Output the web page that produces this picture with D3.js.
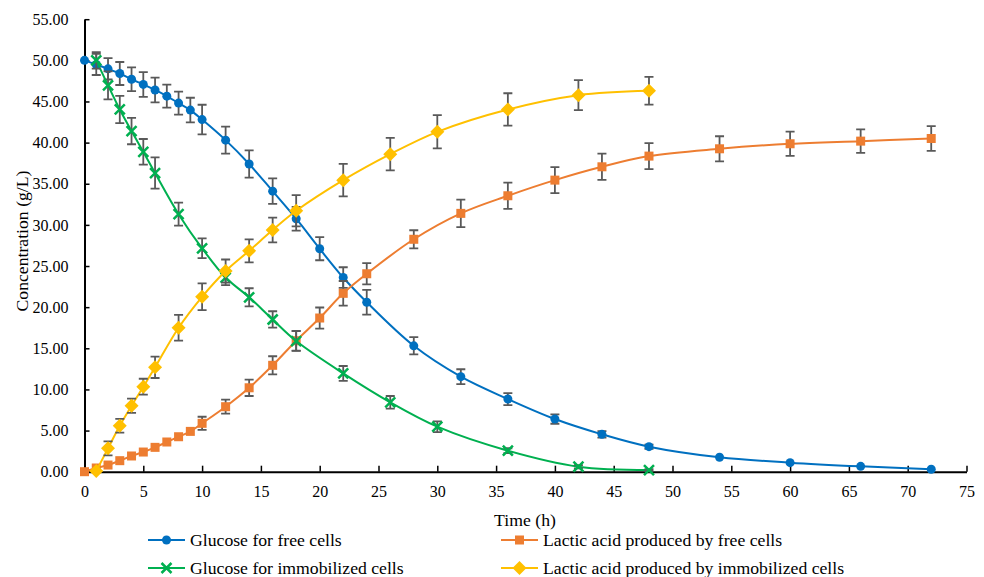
<!DOCTYPE html>
<html>
<head>
<meta charset="utf-8">
<script src="https://cdn.jsdelivr.net/npm/d3@7/dist/d3.min.js"></script>
<style>
  html, body { margin: 0; padding: 0; background: #fff; }
  svg { display: block; }
  svg text { font-family: "Liberation Serif", "Times New Roman", "DejaVu Serif", serif !important; fill: #000; }
</style>
</head>
<body>
<svg id="chart" width="984" height="577"></svg>
<script>
// ---- data ----
const timeFree = [0,1,2,3,4,5,6,7,8,9,10,12,14,16,18,20,22,24,28,32,36,40,44,48,54,60,66,72];
const glucoseFree = [50.0,49.5,48.97,48.4,47.7,47.07,46.4,45.65,44.8,43.95,42.8,40.3,37.4,34.1,30.75,27.1,23.6,20.6,15.3,11.55,8.83,6.4,4.54,3.04,1.75,1.1,0.65,0.3];
const glucoseFreeErr = [0,1.28,1.3,1.4,1.45,1.5,1.5,1.4,1.4,1.5,1.8,1.65,1.65,1.55,1.45,1.4,1.25,1.5,1.05,0.9,0.73,0.57,0.4,0.25,0,0,0,0];

const timeLacticFree = [0,1,2,3,4,5,6,7,8,9,10,12,14,16,18,20,22,24,28,32,36,40,44,48,54,60,66,72];
const lacticFree = [0,0.45,0.81,1.34,1.91,2.39,2.96,3.61,4.25,4.9,5.88,7.9,10.2,12.93,15.92,18.68,21.68,24.06,28.25,31.4,33.54,35.44,37.06,38.36,39.25,39.86,40.18,40.5];
const lacticFreeErr = [0,0,0,0,0,0,0,0,0,0,0.8,0.85,1.0,1.1,1.2,1.28,1.5,1.3,1.1,1.68,1.6,1.58,1.6,1.58,1.52,1.48,1.42,1.5];

const timeImmob = [1,2,3,4,5,6,8,10,12,14,16,18,22,26,30,36,42,48];
const glucoseImmob = [50.0,46.95,44.03,41.4,38.88,36.3,31.3,27.15,23.6,21.2,18.5,15.88,11.95,8.43,5.47,2.55,0.61,0.2];
const glucoseImmobErr = [1.0,1.7,1.65,1.6,1.56,1.9,1.4,1.2,0.93,1.1,1.0,1.2,0.9,0.77,0.65,0.3,0.2,0.1];

const lacticImmob = [0.08,2.84,5.59,8.02,10.33,12.69,17.5,21.26,24.39,26.85,29.37,31.71,35.44,38.6,41.31,44.03,45.77,46.3];
const lacticImmobErr = [0,0.85,0.83,0.87,0.97,1.3,1.56,1.62,1.4,1.4,1.5,1.9,1.98,1.98,2.02,1.97,1.82,1.68];

const xTicks = [0,5,10,15,20,25,30,35,40,45,50,55,60,65,70,75];
const yTicks = [0,5,10,15,20,25,30,35,40,45,50,55];

const seriesNames = ["Glucose for free cells","Lactic acid produced by free cells","Glucose for immobilized cells","Lactic acid produced by immobilized cells"];
const seriesColors = ["#0070C0","#ED7D31","#00B050","#FFC000"];
const seriesMarkers = ["circle","square","cross","diamond"];

(function () {
const FONT = "'Liberation Serif', 'Times New Roman', 'DejaVu Serif', serif";
function zip(t, v, e) { return t.map((xx, i) => ({ t: xx, v: v[i], e: e[i] })); }
const series = [
  { name: seriesNames[0], color: seriesColors[0], marker: seriesMarkers[0], pts: zip(timeFree, glucoseFree, glucoseFreeErr) },
  { name: seriesNames[1], color: seriesColors[1], marker: seriesMarkers[1], pts: zip(timeLacticFree, lacticFree, lacticFreeErr) },
  { name: seriesNames[2], color: seriesColors[2], marker: seriesMarkers[2], pts: zip(timeImmob, glucoseImmob, glucoseImmobErr) },
  { name: seriesNames[3], color: seriesColors[3], marker: seriesMarkers[3], pts: zip(timeImmob, lacticImmob, lacticImmobErr) }
];

const svg = d3.select("#chart");
const mLeft = 84.5, mRight = 966.5, mTop = 19.2, mBottom = 471.7;
const x = d3.scaleLinear().domain([0, 75]).range([mLeft, mRight]);
const y = d3.scaleLinear().domain([0, 55]).range([mBottom, mTop]);

const yAxis = d3.axisLeft(y).tickValues(yTicks).tickFormat(d3.format(".2f")).tickSizeInner(-5).tickSizeOuter(0).tickPadding(16);
const gy = svg.append("g").attr("transform", `translate(${mLeft},0)`).call(yAxis);
gy.attr("font-family", FONT).attr("font-size", 16);
gy.selectAll("text").attr("font-family", FONT).attr("font-size", 16);
gy.select(".domain").attr("stroke", "#000").attr("stroke-width", 2);
gy.selectAll(".tick line").attr("stroke", "#000").attr("stroke-width", 1.5);

const xAxis = d3.axisBottom(x).tickValues(xTicks).tickFormat(d3.format("d")).tickSizeInner(-6).tickSizeOuter(0).tickPadding(14);
const gx = svg.append("g").attr("transform", `translate(0,${mBottom})`).call(xAxis);
gx.attr("font-family", FONT).attr("font-size", 16);
gx.selectAll("text").attr("font-family", FONT).attr("font-size", 16);
gx.select(".domain").attr("stroke", "#000").attr("stroke-width", 2);
gx.selectAll(".tick line").attr("stroke", "#000").attr("stroke-width", 1.5);

svg.append("text").attr("x", 525).attr("y", 526).attr("text-anchor", "middle")
  .attr("font-family", FONT).attr("font-size", 17.7).text("Time (h)");
svg.append("text").attr("transform", "translate(28,241) rotate(-90)").attr("text-anchor", "middle")
  .attr("font-family", FONT).attr("font-size", 17.7).text("Concentration (g/L)");

const line = d3.line().x(d => x(d.t)).y(d => y(d.v)).curve(d3.curveCatmullRom.alpha(0.5));

function drawMarker(g, type, color, cx, cy) {
  if (type === "circle") {
    g.append("circle").attr("cx", cx).attr("cy", cy).attr("r", 4.5).attr("fill", color);
  } else if (type === "square") {
    g.append("rect").attr("x", cx - 4.5).attr("y", cy - 4.5).attr("width", 9).attr("height", 9).attr("fill", color);
  } else if (type === "diamond") {
    g.append("path").attr("d", `M${cx},${cy-7}L${cx+7},${cy}L${cx},${cy+7}L${cx-7},${cy}Z`).attr("fill", color);
  } else if (type === "cross") {
    g.append("path").attr("d", `M${cx-5},${cy-5}L${cx+5},${cy+5}M${cx-5},${cy+5}L${cx+5},${cy-5}`)
      .attr("stroke", color).attr("stroke-width", 2.5).attr("fill", "none");
  }
}

const plot = svg.append("g");
series.forEach(s => {
  const g = plot.append("g");
  g.append("path").datum(s.pts).attr("d", line).attr("fill", "none")
    .attr("stroke", s.color).attr("stroke-width", 2);
  s.pts.forEach(p => {
    if (p.e > 0) {
      const cx = x(p.t), y1 = y(p.v + p.e), y2 = y(p.v - p.e);
      g.append("path").attr("d", `M${cx},${y1}L${cx},${y2}M${cx-4.5},${y1}L${cx+4.5},${y1}M${cx-4.5},${y2}L${cx+4.5},${y2}`)
        .attr("stroke", "#595959").attr("stroke-width", 1.8).attr("fill", "none");
    }
  });
  s.pts.forEach(p => drawMarker(g, s.marker, s.color, x(p.t), y(p.v)));
});

const legendPos = [
  { lx: 148, tx: 190, y: 540 },
  { lx: 501, tx: 543, y: 540 },
  { lx: 148, tx: 190, y: 568 },
  { lx: 501, tx: 543, y: 568 }
];
series.forEach((s, i) => {
  const p = legendPos[i];
  const g = svg.append("g");
  g.append("line").attr("x1", p.lx).attr("x2", p.lx + 37).attr("y1", p.y).attr("y2", p.y)
    .attr("stroke", s.color).attr("stroke-width", 2);
  drawMarker(g, s.marker, s.color, p.lx + 18.5, p.y);
  g.append("text").attr("x", p.tx).attr("y", p.y).attr("dy", "0.35em")
    .attr("font-family", FONT).attr("font-size", 17.7).text(s.name);
});
})();
</script>
</body>
</html>
